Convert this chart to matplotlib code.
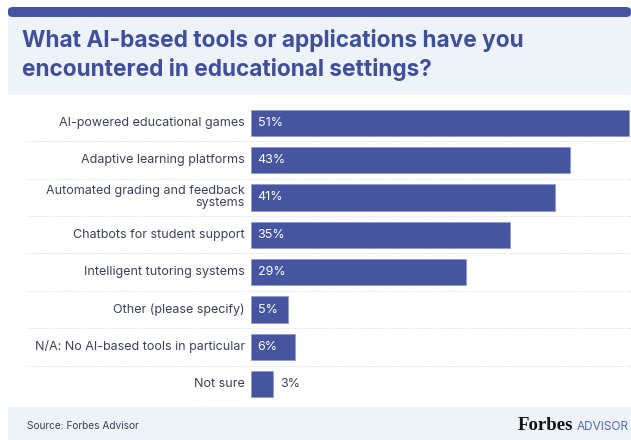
import numpy as np
import matplotlib.pyplot as plt
from matplotlib.patches import Rectangle, FancyBboxPatch

categories = [
    "AI-powered educational games",
    "Adaptive learning platforms",
    "Automated grading and feedback\nsystems",
    "Chatbots for student support",
    "Intelligent tutoring systems",
    "Other (please specify)",
    "N/A: No AI-based tools in particular",
    "Not sure",
]
values = [51, 43, 41, 35, 29, 5, 6, 3]

title = "What AI-based tools or applications have you\nencountered in educational settings?"
source = "Source: Forbes Advisor"

bar_color = "#4555a0"
text_color = "#3b4157"
panel_color = "#eef2f9"
font = "Inter"

W, H = 631, 440
fig = plt.figure(figsize=(W / 100, H / 100), dpi=100)
fig.patch.set_facecolor("white")

def px(x, y):
    return x / W, 1 - y / H

# header and footer panels
fig.patches.append(Rectangle(px(8, 95), (W - 8) / W, 79 / H, transform=fig.transFigure,
                             facecolor=panel_color, edgecolor="none", zorder=0))
fig.patches.append(FancyBboxPatch(px(8, 17), (W - 8) / W, 10 / H, transform=fig.transFigure,
                                  boxstyle="round,pad=0,rounding_size=0.008",
                                  facecolor="#4454a0", edgecolor="none", zorder=1))
fig.patches.append(Rectangle(px(8, 440), (W - 8) / W, 33 / H, transform=fig.transFigure,
                             facecolor=panel_color, edgecolor="none", zorder=0))

fig.text(*px(22, 55), title, fontsize=16.3, fontweight="bold", color="#3f4f9a",
         family=font, va="center", ha="left", linespacing=1.3)
fig.text(*px(27, 426), source, fontsize=7.3, color=text_color, family=font, va="center")
fig.text(*px(573, 425), "Forbes", fontsize=13.5, fontweight="bold", color="#111111",
         family="Liberation Serif", va="center", ha="right")
fig.text(*px(577, 427), "ADVISOR", fontsize=8.5, color="#5068c4", family=font, va="center", ha="left")

# chart axes: x from 27px to 631px, y from 104px to 403px
ppu = 378 / 51
x0 = 251
ax = fig.add_axes([27 / W, 1 - 403 / H, (W - 27) / W, 299 / H])
ax.set_xlim(-(x0 - 27) / ppu, (W - x0) / ppu)
ax.set_ylim(len(values) - 0.5, -0.5)
ax.axis("off")

y = np.arange(len(values))
ax.barh(y, values, height=0.7, color=bar_color, edgecolor="#8f99cc", linewidth=0.5, zorder=2)

for i, (cat, v) in enumerate(zip(categories, values)):
    ax.text(-0.8, i, cat, ha="right", va="center", fontsize=9, color=text_color,
            family=font, linespacing=1.0)
    if v >= 4:
        ax.text(0.9, i, f"{v}%", ha="left", va="center", fontsize=9, color="white", family=font)
    else:
        ax.text(v + 0.9, i, f"{v}%", ha="left", va="center", fontsize=9, color=text_color, family=font)

for i in range(len(values) - 1):
    ax.axhline(i + 0.5, color="#d3d6de", linestyle=(0, (1, 1.5)), linewidth=0.7, zorder=1)

fig.savefig("out.png", dpi=100)
